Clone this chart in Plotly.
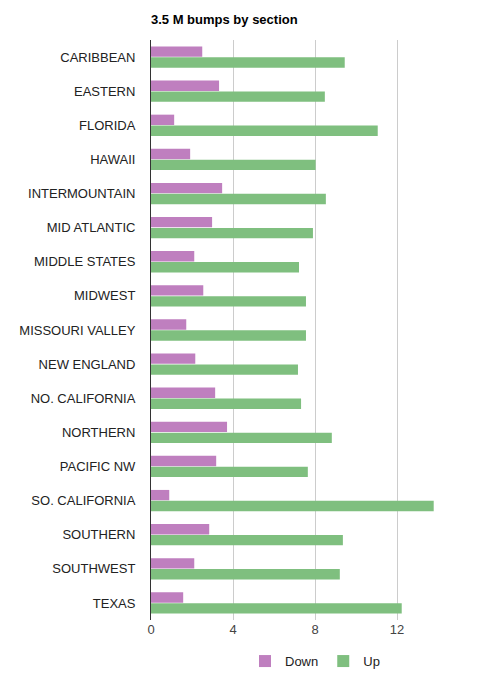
import plotly.graph_objects as go

sections = ["CARIBBEAN", "EASTERN", "FLORIDA", "HAWAII", "INTERMOUNTAIN", "MID ATLANTIC",
            "MIDDLE STATES", "MIDWEST", "MISSOURI VALLEY", "NEW ENGLAND", "NO. CALIFORNIA",
            "NORTHERN", "PACIFIC NW", "SO. CALIFORNIA", "SOUTHERN", "SOUTHWEST", "TEXAS"]
down = [2.50, 3.32, 1.13, 1.91, 3.47, 2.98, 2.11, 2.55, 1.72, 2.16, 3.13, 3.71, 3.18, 0.89, 2.84, 2.11, 1.57]
up = [9.45, 8.48, 11.06, 8.03, 8.53, 7.90, 7.22, 7.56, 7.56, 7.17, 7.32, 8.82, 7.65, 13.79, 9.36, 9.21, 12.23]
x_ticks = [0, 4, 8, 12, 16]
x_tick_labels = ["0", "4", "8", "12", ""]

fig = go.Figure()
fig.add_trace(go.Bar(y=sections, x=down, name="Down", orientation="h",
                     marker=dict(color="#bf7fbf", line=dict(width=0))))
fig.add_trace(go.Bar(y=sections, x=up, name="Up", orientation="h",
                     marker=dict(color="#7fbf7f", line=dict(width=0))))

W, H = 472, 672
fig.update_layout(
    width=W, height=H,
    margin=dict(l=143, r=1, t=32, b=60),
    paper_bgcolor="white", plot_bgcolor="white",
    font=dict(family="Liberation Sans, Arial, sans-serif", size=13, color="#222"),
    title=dict(text="<b>3.5 M bumps by section</b>", x=143/W, xanchor="left",
               y=1 - 11/H, yanchor="middle", font=dict(size=13, color="#000")),
    barmode="group", bargap=0.36, bargroupgap=0.05,
    showlegend=True,
    legend=dict(orientation="h", x=0.5, xanchor="center", y=-0.045, yanchor="top",
                font=dict(size=13, color="#222"), traceorder="normal"),
)
fig.update_xaxes(range=[0, 16], tickvals=x_ticks, ticktext=x_tick_labels,
                 showgrid=True, gridcolor="#cccccc", gridwidth=1, zeroline=False,
                 showline=False, tickfont=dict(size=13, color="#444"), ticks="")
fig.update_yaxes(autorange="reversed", showgrid=False, showline=True, linecolor="#333",
                 linewidth=1, ticks="", ticklabelstandoff=12,
                 tickfont=dict(size=13, color="#222"))

fig.write_html("out.html")
